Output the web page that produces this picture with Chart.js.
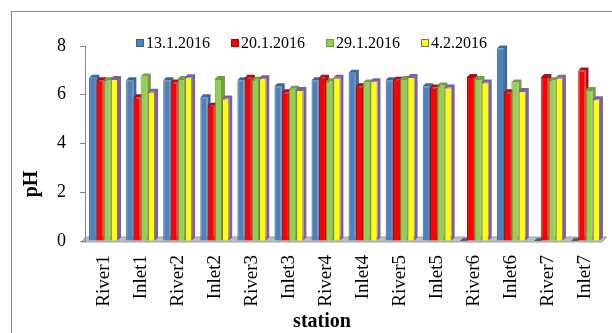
<!DOCTYPE html>
<html>
<head>
<meta charset="utf-8">
<script src="https://cdn.jsdelivr.net/npm/chart.js@4.4.0/dist/chart.umd.min.js"></script>
<style>
html,body{margin:0;padding:0;background:#fff;}
#wrap{width:612px;height:333px;position:relative;}
</style>
</head>
<body>
<div id="wrap"><canvas id="c" width="612" height="333"></canvas></div>
<script>
const categories = ["River1","Inlet1","River2","Inlet2","River3","Inlet3","River4","Inlet4","River5","Inlet5","River6","Inlet6","River7","Inlet7"];
const seriesNames = ["13.1.2016","20.1.2016","29.1.2016","4.2.2016"];
const s13Jan = [6.70, 6.60, 6.60, 5.90, 6.60, 6.35, 6.60, 6.90, 6.60, 6.35, 0, 7.90, 0, 0];
const s20Jan = [6.60, 5.90, 6.50, 5.55, 6.70, 6.10, 6.70, 6.35, 6.62, 6.30, 6.73, 6.10, 6.73, 7.00];
const s29Jan = [6.60, 6.75, 6.65, 6.65, 6.62, 6.25, 6.55, 6.50, 6.65, 6.38, 6.65, 6.50, 6.60, 6.20];
const s4Feb  = [6.65, 6.12, 6.72, 5.85, 6.68, 6.20, 6.70, 6.55, 6.73, 6.30, 6.50, 6.15, 6.70, 5.82];
const yTicks = [0, 2, 4, 6, 8];

const fills   = ["#4F81BD", "#FF0000", "#92D050", "#FFFF00"];
const borders = ["#3A6496", "#B00000", "#6F9B3C", "#7F619E"];
const depths  = ["#3B679C", "#A80F1E", "#739F40", "#7C60A0"];
const values = [s13Jan, s20Jan, s29Jan, s4Feb];

const serif = "'Liberation Serif', 'Times New Roman', serif";

const frame = {
  id: 'frame',
  beforeDraw(chart) {
    const ctx = chart.ctx;
    ctx.save();
    ctx.strokeStyle = '#8C8C8C';
    ctx.lineWidth = 1;
    ctx.strokeRect(11.5, 11.5, 800, 500);
    const a = chart.chartArea;
    ctx.beginPath();
    ctx.moveTo(a.left - 4, a.bottom + 1);
    ctx.lineTo(a.right - 2, a.bottom + 1);
    ctx.lineTo(a.right + 3, a.bottom - 4);
    ctx.lineTo(a.left + 1, a.bottom - 4);
    ctx.closePath();
    ctx.fillStyle = '#BFBFBF';
    ctx.fill();
    ctx.strokeStyle = '#A0A0A0';
    ctx.stroke();
    ctx.restore();
  }
};

const depth3d = {
  id: 'depth3d',
  beforeDatasetsDraw(chart) {
    const ctx = chart.ctx;
    const dx = 3, dy = -3;
    ctx.save();
    chart.data.datasets.forEach((ds, di) => {
      const meta = chart.getDatasetMeta(di);
      meta.data.forEach(el => {
        const p = el.getProps(['x','y','base','width'], true);
        const l = p.x - p.width/2, r = p.x + p.width/2;
        const top = Math.min(p.y, p.base), bot = Math.max(p.y, p.base);
        ctx.fillStyle = depths[di];
        ctx.beginPath();
        ctx.moveTo(l, top);
        ctx.lineTo(l + dx, top + dy);
        ctx.lineTo(r + dx, top + dy);
        ctx.lineTo(r + dx, bot + dy);
        ctx.lineTo(r, bot);
        ctx.lineTo(r, top);
        ctx.closePath();
        ctx.fill();
      });
    });
    ctx.restore();
  }
};

const texts = {
  id: 'texts',
  afterDraw(chart) {
    const ctx = chart.ctx;
    ctx.save();
    const mx = [136, 231, 326, 421];
    ctx.font = "16px " + serif;
    ctx.textBaseline = 'middle';
    ctx.textAlign = 'left';
    seriesNames.forEach((n, i) => {
      ctx.fillStyle = fills[i];
      ctx.fillRect(mx[i], 39, 8, 8);
      ctx.strokeStyle = borders[i];
      ctx.lineWidth = 1;
      ctx.strokeRect(mx[i] + 0.5, 39.5, 7, 7);
      ctx.fillStyle = '#000';
      ctx.fillText(n, mx[i] + 10, 44);
    });
    ctx.font = "bold 20px " + serif;
    ctx.textAlign = 'center';
    ctx.fillText('station', 322, 322);
    ctx.translate(32, 184);
    ctx.rotate(-Math.PI/2);
    ctx.fillText('pH', 0, 0);
    ctx.restore();
  }
};

new Chart(document.getElementById('c'), {
  type: 'bar',
  data: {
    labels: categories,
    datasets: values.map((v, i) => ({
      label: seriesNames[i],
      data: v,
      backgroundColor: fills[i],
      borderColor: borders[i],
      borderWidth: 1,
      borderSkipped: 'bottom',
      categoryPercentage: 0.78,
      barPercentage: 1.0
    }))
  },
  options: {
    responsive: false,
    animation: false,
    devicePixelRatio: 1,
    layout: { padding: { top: 46, right: 8, left: 0, bottom: 0 } },
    plugins: { legend: { display: false }, tooltip: { enabled: false } },
    scales: {
      x: {
        grid: { display: false, drawTicks: false },
        border: { display: false },
        ticks: {
          autoSkip: false, maxRotation: 90, minRotation: 90,
          padding: 14, color: '#000',
          font: { family: serif, size: 19 }
        },
        afterFit(s) { s.height = 92; s.paddingLeft = 0; s.paddingRight = 0; }
      },
      y: {
        min: 0, max: 8,
        afterBuildTicks(s) { s.ticks = yTicks.map(v => ({ value: v })); },
        grid: { drawOnChartArea: false, drawTicks: true, tickLength: 5, color: '#868686' },
        border: { color: '#868686', width: 1 },
        ticks: { color: '#000', padding: 14, font: { family: serif, size: 18 } },
        afterFit(s) { s.width = 85; s.paddingTop = 0; s.paddingBottom = 0; }
      }
    }
  },
  plugins: [frame, depth3d, texts]
});
</script>
</body>
</html>
